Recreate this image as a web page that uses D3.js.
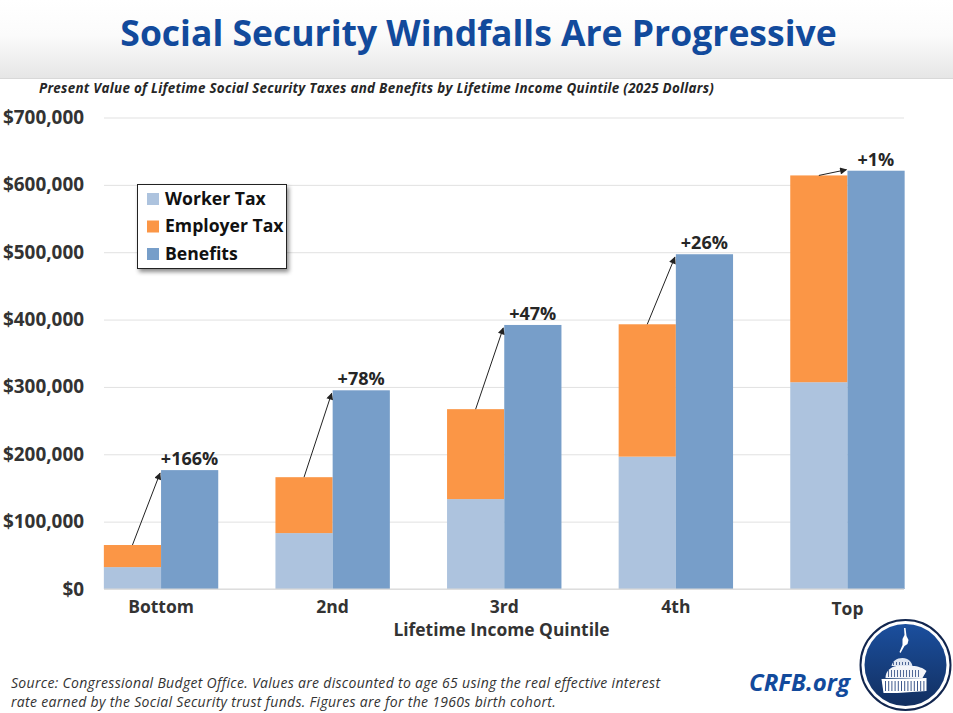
<!DOCTYPE html>
<html>
<head>
<meta charset="utf-8">
<script src="https://cdn.jsdelivr.net/npm/d3@7"></script>
<style>
  html, body { margin: 0; padding: 0; background: #fff; overflow: hidden; }
  text { font-family: "Open Sans", "Noto Sans", sans-serif; }
</style>
</head>
<body>
<div id="chart"></div>
<script>
const quintiles = ["Bottom", "2nd", "3rd", "4th", "Top"]
const workerTax = [32500, 83000, 133500, 196500, 307000]
const employerTax = [32800, 83000, 133500, 196500, 307000]
const benefits = [176500, 295000, 392000, 497000, 621000]
const windfalls = ["+166%", "+78%", "+47%", "+26%", "+1%"]
const yTicks = [0, 100000, 200000, 300000, 400000, 500000, 600000, 700000]
const legendLabels = ["Worker Tax", "Employer Tax", "Benefits"]
const colors = ["#adc3de", "#fb9646", "#779ec9"]

function drawChart() {
  const dimensions = {
    width: 953, height: 713,
    margin: { top: 117.5, right: 49, bottom: 124, left: 104 },
  }
  dimensions.boundedWidth = dimensions.width - dimensions.margin.left - dimensions.margin.right
  dimensions.boundedHeight = dimensions.height - dimensions.margin.top - dimensions.margin.bottom

  const wrapper = d3.select("#chart").append("svg")
    .attr("width", dimensions.width)
    .attr("height", dimensions.height)
    .style("display", "block")

  const defs = wrapper.append("defs")
  const headerGrad = defs.append("linearGradient")
    .attr("id", "header-grad").attr("x1", 0).attr("x2", 0).attr("y1", 0).attr("y2", 1)
  headerGrad.append("stop").attr("offset", "0%").attr("stop-color", "#ffffff")
  headerGrad.append("stop").attr("offset", "45%").attr("stop-color", "#fbfbfb")
  headerGrad.append("stop").attr("offset", "100%").attr("stop-color", "#e6e6e6")

  const badgeGrad = defs.append("linearGradient")
    .attr("id", "badge-grad").attr("x1", 0).attr("x2", 0).attr("y1", 0).attr("y2", 1)
  badgeGrad.append("stop").attr("offset", "0%").attr("stop-color", "#1b4f9e")
  badgeGrad.append("stop").attr("offset", "100%").attr("stop-color", "#122f60")

  const shadow = defs.append("filter").attr("id", "legend-shadow")
    .attr("x", "-10%").attr("y", "-10%").attr("width", "125%").attr("height", "130%")
  shadow.append("feDropShadow")
    .attr("dx", 2).attr("dy", 3).attr("stdDeviation", 2)
    .attr("flood-color", "#000").attr("flood-opacity", 0.45)

  defs.append("marker").attr("id", "arrow")
    .attr("viewBox", "0 0 10 10").attr("refX", 9).attr("refY", 5)
    .attr("markerWidth", 8).attr("markerHeight", 7)
    .attr("markerUnits", "userSpaceOnUse").attr("orient", "auto")
    .append("path").attr("d", "M0,0L10,5L0,10Z").attr("fill", "#222")

  // header band
  wrapper.append("rect").attr("width", dimensions.width).attr("height", 78)
    .attr("fill", "url(#header-grad)")
  wrapper.append("line").attr("x1", 0).attr("x2", dimensions.width).attr("y1", 78.5).attr("y2", 78.5)
    .attr("stroke", "#d8d8d8")

  wrapper.append("text").attr("x", 478.5).attr("y", 46)
    .attr("text-anchor", "middle")
    .attr("font-size", 35.5).attr("font-weight", 700).attr("fill", "#124a9c")
    .text("Social Security Windfalls Are Progressive")

  wrapper.append("text").attr("x", 39).attr("y", 93)
    .attr("font-size", 13.4).attr("font-weight", 700).attr("font-style", "italic").attr("fill", "#262626")
    .attr("letter-spacing", 0.28)
    .text("Present Value of Lifetime Social Security Taxes and Benefits by Lifetime Income Quintile (2025 Dollars)")

  const bounds = wrapper.append("g")
    .attr("transform", `translate(${dimensions.margin.left}, ${dimensions.margin.top})`)

  const xScale = d3.scaleBand()
    .domain(quintiles)
    .range([-28.75, 829.25])
  const barWidth = 57.2

  const yScale = d3.scaleLinear()
    .domain([0, 700000])
    .range([dimensions.boundedHeight, 0])

  const yAxis = bounds.append("g")
    .call(d3.axisLeft(yScale).tickValues(yTicks).tickFormat(d3.format("$,")).tickSize(-dimensions.boundedWidth).tickPadding(20))
  yAxis.select(".domain").remove()
  yAxis.selectAll(".tick line").attr("stroke", "#e1e1e1")
  yAxis.selectAll(".tick text")
    .attr("font-size", 18.9).attr("font-weight", 700).attr("fill", "#333")
    .attr("font-family", '"Open Sans", sans-serif')

  const xAxis = bounds.append("g")
    .attr("transform", `translate(0, ${dimensions.boundedHeight})`)
    .call(d3.axisBottom(xScale).tickSize(0).tickPadding(12))
  xAxis.select(".domain").remove()
  xAxis.selectAll(".tick text")
    .attr("font-size", 17.5).attr("font-weight", 700).attr("fill", "#333")
    .attr("font-family", '"Open Sans", sans-serif')
    .attr("dy", d => d === "Top" ? "0.82em" : "0.71em")

  const center = d => xScale(d) + xScale.bandwidth() / 2

  // stacked tax bars
  const stackRows = quintiles.map((q, i) => ({ q, worker: workerTax[i], employer: employerTax[i] }))
  const stack = d3.stack().keys(["worker", "employer"])(stackRows)
  bounds.selectAll(".tax")
    .data(stack)
    .join("g")
      .attr("fill", (d, i) => colors[i])
    .selectAll("rect")
    .data(d => d)
    .join("rect")
      .attr("x", d => center(d.data.q) - barWidth)
      .attr("width", barWidth)
      .attr("y", d => yScale(d[1]))
      .attr("height", d => yScale(d[0]) - yScale(d[1]))

  bounds.selectAll(".benefit")
    .data(quintiles)
    .join("rect")
      .attr("x", d => center(d))
      .attr("width", barWidth)
      .attr("y", (d, i) => yScale(benefits[i]))
      .attr("height", (d, i) => yScale(0) - yScale(benefits[i]))
      .attr("fill", colors[2])

  bounds.append("line")
    .attr("x1", 0).attr("x2", dimensions.boundedWidth)
    .attr("y1", dimensions.boundedHeight).attr("y2", dimensions.boundedHeight)
    .attr("stroke", "#d9d9d9")

  // arrows from the top of the tax stack to the top of the benefit bar
  bounds.selectAll(".windfall-arrow")
    .data(quintiles)
    .join("line")
      .attr("x1", d => center(d) - barWidth / 2)
      .attr("y1", (d, i) => yScale(workerTax[i] + employerTax[i]))
      .attr("x2", d => center(d) - 1)
      .attr("y2", (d, i) => yScale(benefits[i]) + (d === "Top" ? -1 : 3))
      .attr("stroke", "#222").attr("stroke-width", 1)
      .attr("marker-end", "url(#arrow)")

  bounds.selectAll(".windfall-label")
    .data(quintiles)
    .join("text")
      .attr("x", d => center(d) + 28.5)
      .attr("y", (d, i) => yScale(benefits[i]) - 5)
      .attr("text-anchor", "middle")
      .attr("font-size", 18).attr("font-weight", 700).attr("fill", "#262626")
      .text((d, i) => windfalls[i])

  wrapper.append("text").attr("x", 501.5).attr("y", 636)
    .attr("text-anchor", "middle")
    .attr("font-size", 17.4).attr("font-weight", 700).attr("fill", "#333")
    .text("Lifetime Income Quintile")

  // legend
  const legend = wrapper.append("g").attr("transform", "translate(137.5, 184.5)")
  legend.append("rect").attr("width", 149).attr("height", 84)
    .attr("fill", "#fff").attr("stroke", "#222").attr("stroke-width", 1)
    .attr("filter", "url(#legend-shadow)")
  const legendRow = legend.selectAll(".row").data(legendLabels).join("g")
    .attr("transform", (d, i) => `translate(9.5, ${7.5 + i * 27.5})`)
  legendRow.append("rect").attr("width", 12).attr("height", 12).attr("y", 1)
    .attr("fill", (d, i) => colors[i])
  legendRow.append("text").attr("x", 18).attr("y", 12.5)
    .attr("font-size", 17.6).attr("font-weight", 700).attr("fill", "#111")
    .text(d => d)

  // source
  const source = wrapper.append("text").attr("font-size", 14).attr("font-style", "italic").attr("fill", "#333")
    .attr("letter-spacing", 0.31)
  source.append("tspan").attr("x", 11).attr("y", 688)
    .text("Source: Congressional Budget Office. Values are discounted to age 65 using the real effective interest")
  source.append("tspan").attr("x", 11).attr("y", 707)
    .text("rate earned by the Social Security trust funds. Figures are for the 1960s birth cohort.")

  wrapper.append("text").attr("x", 799.5).attr("y", 691)
    .attr("text-anchor", "middle")
    .attr("font-size", 24).attr("font-weight", 700).attr("font-style", "italic").attr("fill", "#124a9c")
    .text("CRFB.org")

  // round logo
  const logo = wrapper.append("g").attr("transform", "translate(905.5, 665)")
  logo.append("circle").attr("r", 45).attr("fill", "#fff").attr("stroke", "#12264f").attr("stroke-width", 2)
  logo.append("circle").attr("r", 41).attr("fill", "url(#badge-grad)")
  // statue
  logo.append("path").attr("fill", "#fff")
    .attr("d", "M-1.5,-37L0,-37L1,-29L3,-25L2,-21L-1,-19L-5,-12L-6,-13L-3,-20L-3,-26L-1,-30Z")
  // dome tiers
  logo.append("path").attr("fill", "#dfe6f2")
    .attr("d", "M-14,1C-13,-4 -9,-7 -3,-7C3,-7 6,-3 7,1Z")
  logo.append("path").attr("fill", "#f2f4f9")
    .attr("d", "M-20,13C-20,6 -15,2 -9,1L7,1C12,1 18,3 21,6L17,13Z")
  logo.append("path").attr("fill", "#fff")
    .attr("d", "M-24,14L21,13L21,26L-8,28L-22,28Z")
  // columns, drawn as dark slits in the white tiers
  logo.selectAll(".slit-lower").data(d3.range(-20, 20, 3.2)).join("line")
    .attr("x1", d => d).attr("x2", d => d).attr("y1", 16).attr("y2", 26)
    .attr("stroke", "#27457f").attr("stroke-width", 0.9)
  logo.selectAll(".slit-upper").data(d3.range(-17, 16, 3)).join("line")
    .attr("x1", d => d).attr("x2", d => d).attr("y1", 5).attr("y2", 12)
    .attr("stroke", "#27457f").attr("stroke-width", 0.8)
  logo.selectAll(".slit-top").data(d3.range(-12, 6, 3)).join("line")
    .attr("x1", d => d).attr("x2", d => d).attr("y1", -3).attr("y2", 0)
    .attr("stroke", "#27457f").attr("stroke-width", 0.8)
}
drawChart()
</script>
</body>
</html>
